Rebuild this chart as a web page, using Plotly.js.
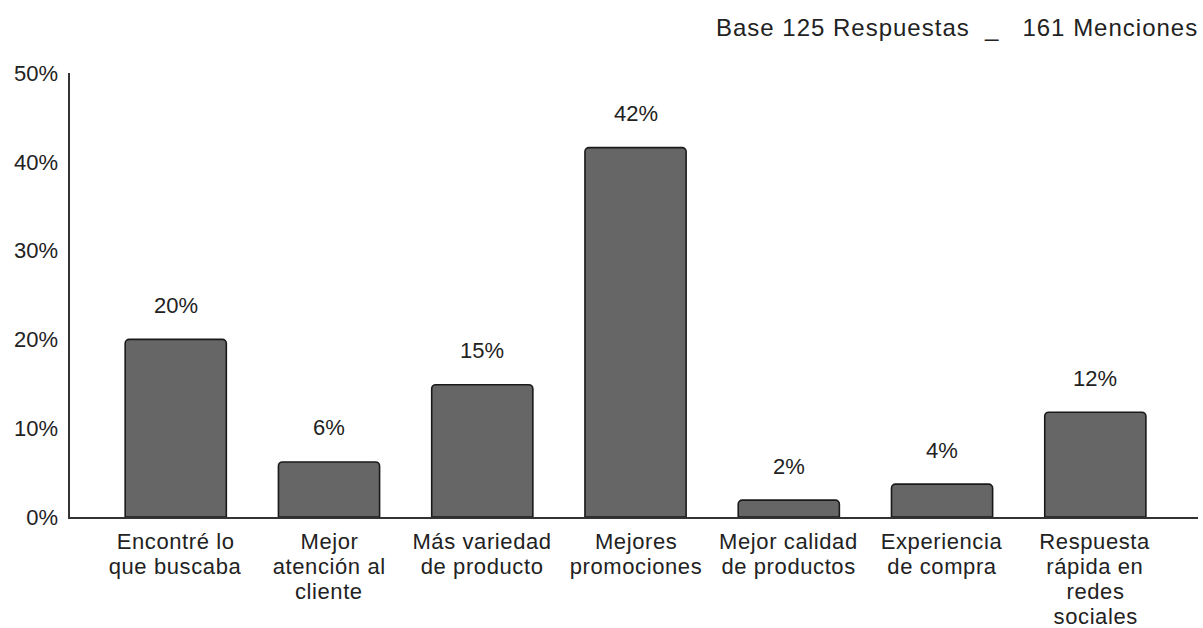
<!DOCTYPE html>
<html>
<head>
<meta charset="utf-8">
<script src="https://cdn.plot.ly/plotly-3.0.1.min.js"></script>
<style>
html,body{margin:0;padding:0;background:#fff;}
#chart{width:1203px;height:628px;}
.catlbl text{letter-spacing:0.6px;}
.gtitle{letter-spacing:1px;}
</style>
</head>
<body>
<div id="chart"></div>
<script>
const categories = [
  "Encontré lo<br>que buscaba",
  "Mejor<br>atención al<br>cliente",
  "Más variedad<br>de producto",
  "Mejores<br>promociones",
  "Mejor calidad<br>de productos",
  "Experiencia<br>de compra",
  "Respuesta<br>rápida en<br>redes<br>sociales"
];
const values = [20.0, 6.2, 14.9, 41.6, 1.9, 3.7, 11.8];
const valueLabels = ["20%", "6%", "15%", "42%", "2%", "4%", "12%"];
const yTickVals = [0, 10, 20, 30, 40, 50];
const yTickText = ["0%", "10%", "20%", "30%", "40%", "50%"];
const titleText = "Base 125 Respuestas&nbsp;&nbsp;_&nbsp;&nbsp;&nbsp;161 Menciones";

const FONT = "Liberation Sans, Arial, sans-serif";
const TXT = "#222222";
const FS = 22;

const xs = categories.map((c, i) => i);

const trace = {
  type: "bar",
  x: xs,
  y: values,
  width: 0.66,
  marker: {color: "#666666", line: {color: "#1a1a1a", width: 1.6}, cornerradius: 4},
  hoverinfo: "skip"
};

const annotations = [];
values.forEach((v, i) => {
  annotations.push({
    x: i, y: v, xref: "x", yref: "y",
    text: valueLabels[i], showarrow: false,
    yanchor: "middle", yshift: 34,
    font: {family: FONT, size: FS, color: TXT}
  });
});
categories.forEach((c, i) => {
  c.split("<br>").forEach((line, n) => {
    annotations.push({
      x: i, y: 0, xref: "x", yref: "paper",
      text: line, showarrow: false,
      xanchor: "center", yanchor: "middle",
      yshift: -(24 + 25 * n),
      font: {family: FONT, size: FS, color: TXT},
      captureevents: false
    });
  });
});

const layout = {
  width: 1203, height: 628,
  margin: {l: 70, r: 5, t: 73, b: 111},
  paper_bgcolor: "#ffffff", plot_bgcolor: "#ffffff",
  showlegend: false,
  font: {family: FONT, size: FS, color: TXT},
  title: {
    text: titleText, x: 0.996, xanchor: "right", xref: "container",
    y: 1 - 28/628, yanchor: "middle", yref: "container",
    font: {family: FONT, size: 24, color: TXT}
  },
  xaxis: {
    range: [-0.69, 6.67],
    tickvals: xs, showticklabels: false,
    showline: true, linecolor: "#333333", linewidth: 1.6,
    showgrid: false, zeroline: false, ticks: "", fixedrange: true
  },
  yaxis: {
    range: [0, 50],
    tickmode: "array", tickvals: yTickVals, ticktext: yTickText,
    showline: true, linecolor: "#333333", linewidth: 1.6,
    showgrid: false, zeroline: false, ticks: "",
    ticklabelstandoff: 6,
    tickfont: {family: FONT, size: FS, color: TXT}, fixedrange: true
  },
  annotations: annotations
};

Plotly.newPlot("chart", [trace], layout, {displayModeBar: false, staticPlot: true}).then(() => {
  document.querySelectorAll(".annotation").forEach((el, k) => {
    if (k >= values.length) el.classList.add("catlbl");
  });
});
</script>
</body>
</html>
